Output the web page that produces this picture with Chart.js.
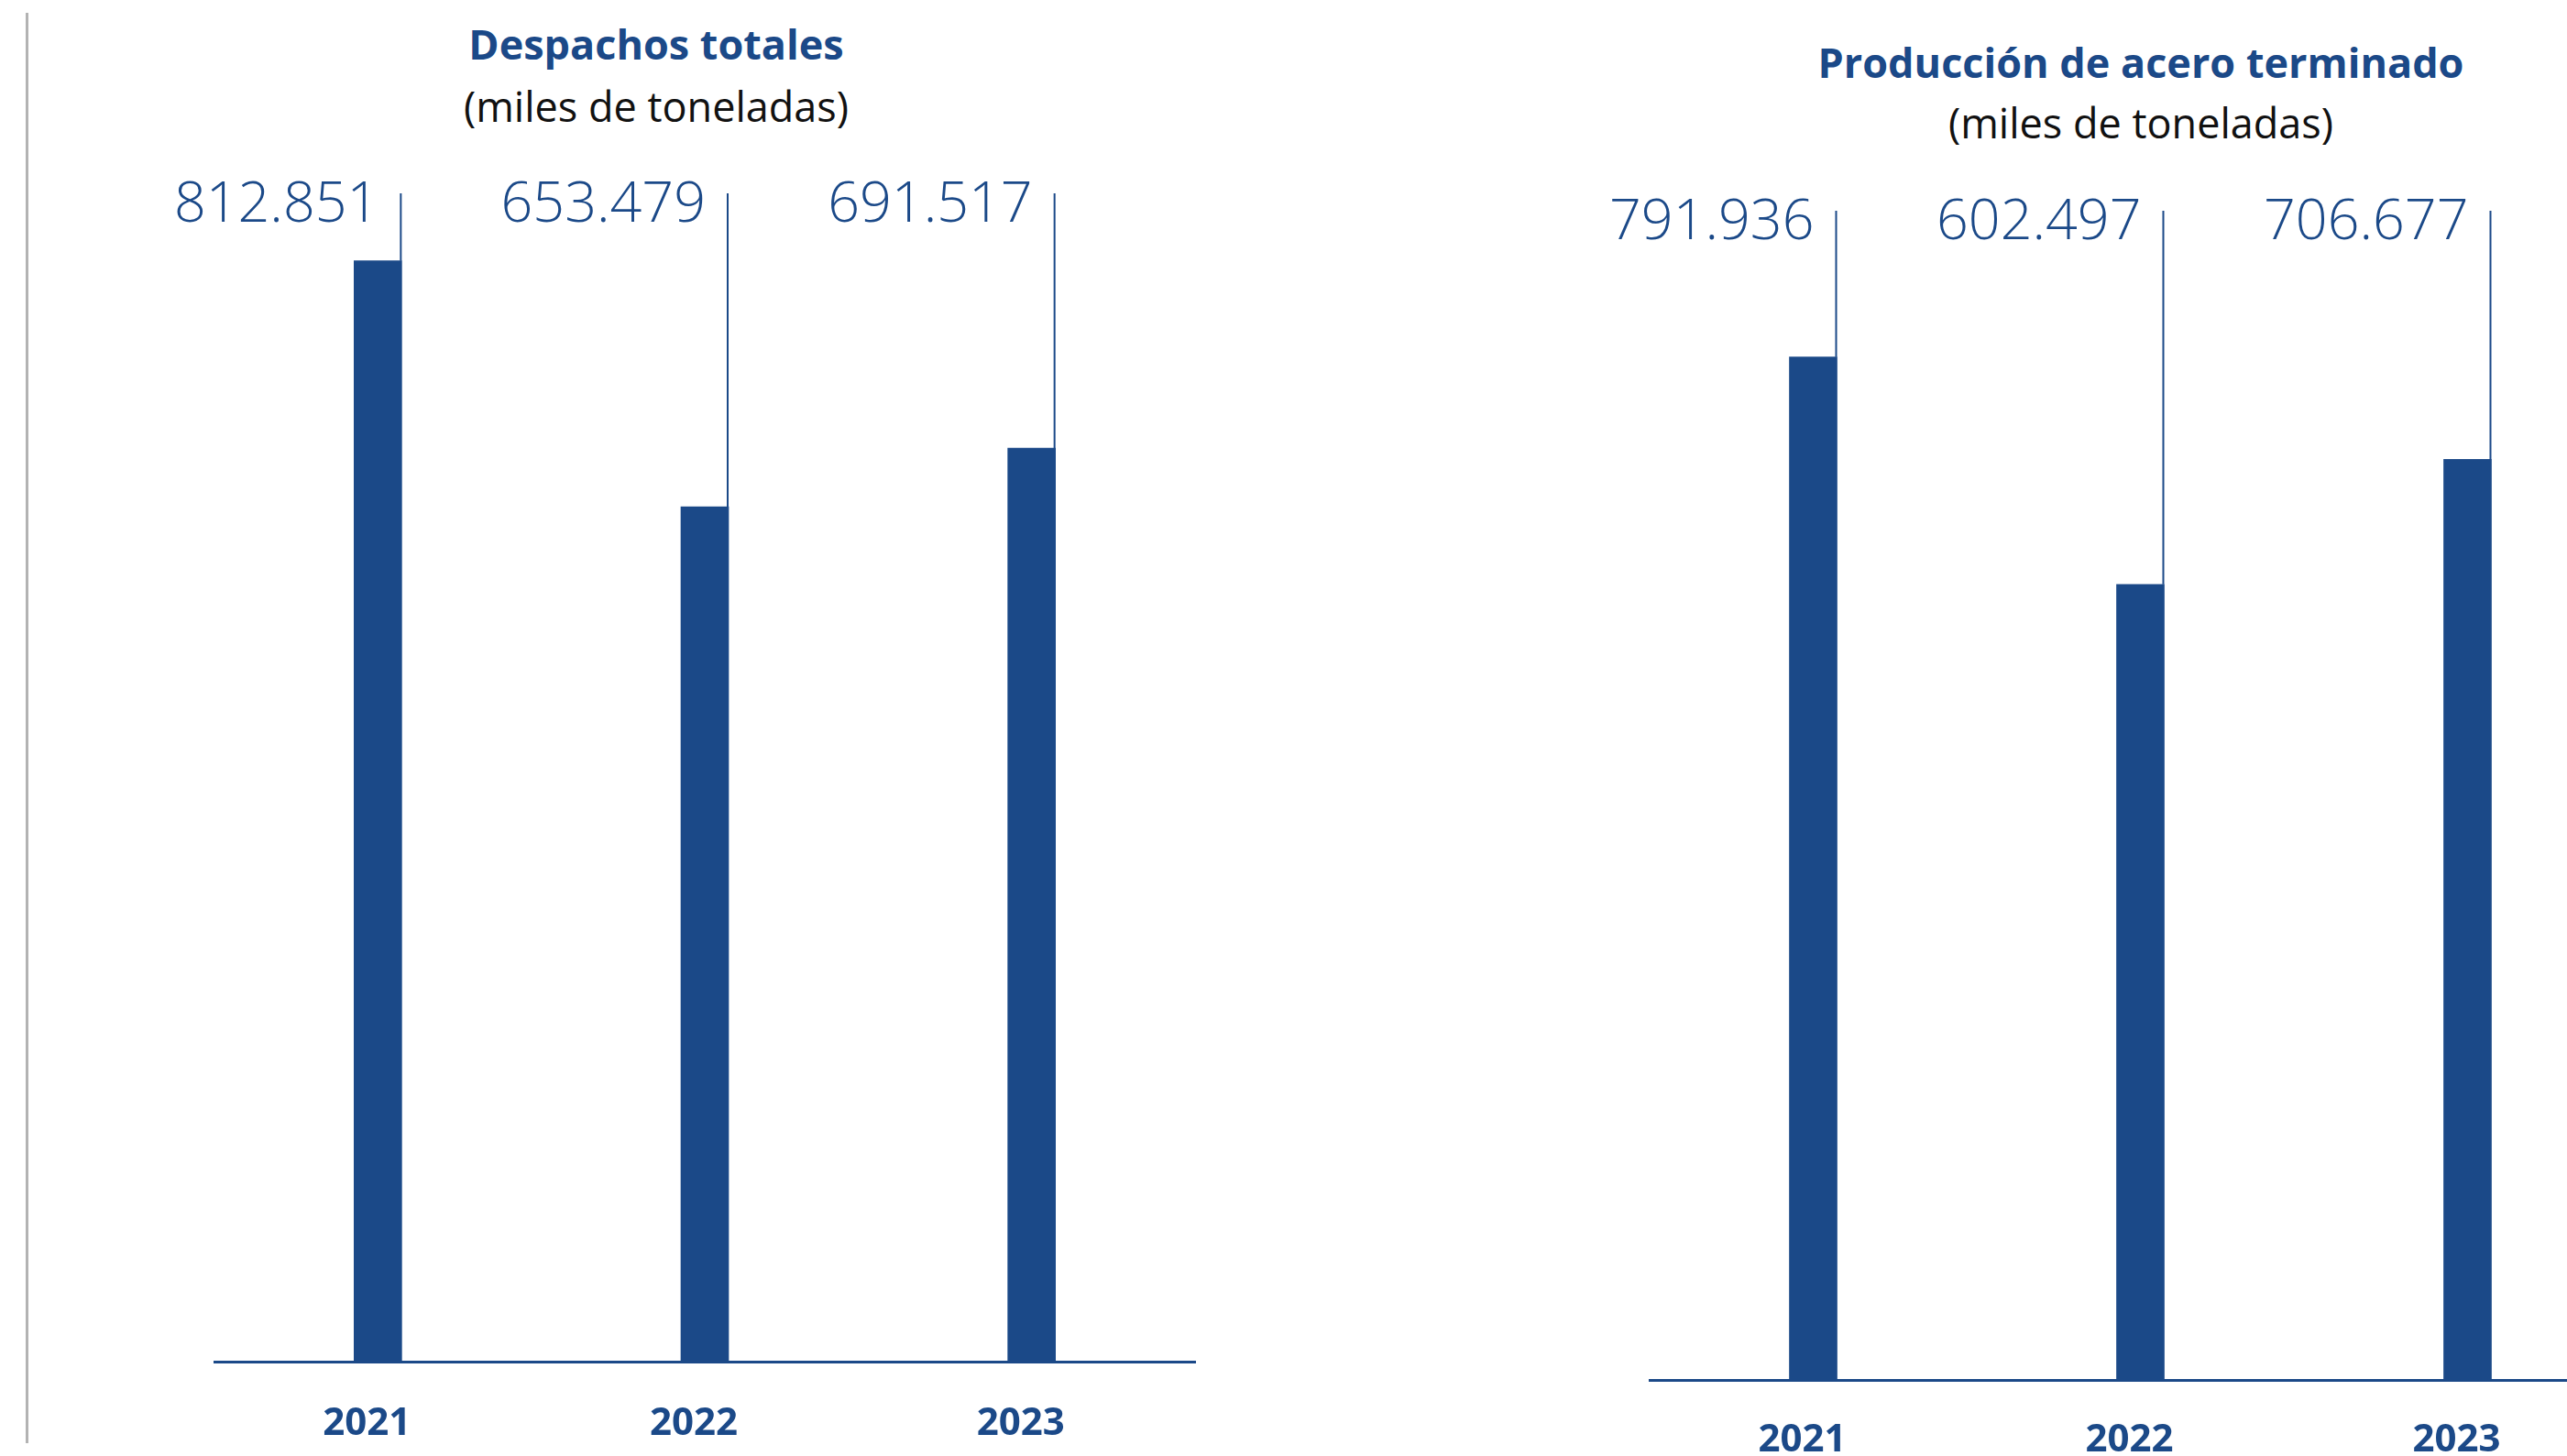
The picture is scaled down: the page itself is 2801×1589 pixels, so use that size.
<!DOCTYPE html>
<html lang="es">
<head>
<meta charset="utf-8">
<title>Despachos y producción</title>
<script src="https://cdn.jsdelivr.net/npm/chart.js@4.4.0/dist/chart.umd.min.js"></script>
<style>
  html, body { margin: 0; padding: 0; background: #fff; overflow: hidden; }
  body { width: 2801px; height: 1589px; position: relative; font-family: "Open Sans", sans-serif; }
  .rule { position: absolute; left: 28px; top: 14px; width: 3px; height: 1561px; background: #b3b3b3; }
  .title, .sub { position: absolute; white-space: nowrap; transform: translateX(-50%); line-height: 52px; }
  .title { color: #1b4988; font-weight: 700; font-size: 45px; }
  .sub { color: #111; font-size: 45px; }
  .box { position: absolute; top: 0; height: 1589px; }
</style>
</head>
<body>
<div class="rule"></div>

<div class="title" style="left:716px; top:22px;">Despachos totales</div>
<div class="sub" style="left:716px; top:90px;">(miles de toneladas)</div>
<div class="title" style="left:2336px; top:42px;">Producción de acero terminado</div>
<div class="sub" style="left:2336px; top:108px;">(miles de toneladas)</div>

<div class="box" style="left:0; width:1400px;"><canvas id="despachos"></canvas></div>
<div class="box" style="left:1700px; width:1200px;"><canvas id="produccion"></canvas></div>

<script>
// data (miles de toneladas, sin separador)
const years = ['2021', '2022', '2023'];
const despachos = [812851, 653479, 691517];
const produccion = [791936, 602497, 706677];

const blue = '#1b4988';

// 812851 -> "812.851"
const fmt = (v) => String(v).replace(/\B(?=(\d{3})+(?!\d))/g, '.');

// value label + thin connector line at the right edge of each bar
const valueTags = {
    id: 'valueTags',
    afterDatasetsDraw(chart, args, opts) {
        let ctx = chart.ctx;
        let meta = chart.getDatasetMeta(0);
        let vals = chart.data.datasets[0].data;
        ctx.save();
        meta.data.forEach((bar, i) => {
            let right = bar.x + bar.width / 2;
            ctx.strokeStyle = blue;
            ctx.lineWidth = 2;
            ctx.beginPath();
            ctx.moveTo(right - 1, opts.top);
            ctx.lineTo(right - 1, bar.y);
            ctx.stroke();
            ctx.fillStyle = blue;
            ctx.font = '300 61px "Open Sans"';
            ctx.textAlign = 'right';
            ctx.textBaseline = 'middle';
            ctx.fillText(fmt(vals[i]), right - 25, opts.top + 14);
        });
        ctx.restore();
    }
};

function makeChart(id, values, cfg) {
    return new Chart(document.getElementById(id), {
        type: 'bar',
        data: {
            labels: years,
            datasets: [{
                data: values,
                backgroundColor: blue,
                borderWidth: 0,
                barThickness: 52,
                base: cfg.min
            }]
        },
        options: {
            responsive: true,
            maintainAspectRatio: false,
            animation: false,
            layout: { padding: cfg.padding },
            plugins: {
                legend: { display: false },
                tooltip: { enabled: false },
                valueTags: { top: cfg.tagTop }
            },
            scales: {
                x: {
                    grid: { display: false, drawTicks: false },
                    border: { display: true, color: blue, width: 3 },
                    ticks: {
                        color: blue,
                        font: { family: '"Open Sans"', weight: 'bold', size: 42 },
                        padding: cfg.tickPad,
                        labelOffset: -12
                    },
                    afterFit: (s) => { s.height = cfg.axisH; }
                },
                y: {
                    display: false,
                    min: cfg.min,
                    max: cfg.max
                }
            }
        },
        plugins: [valueTags]
    });
}

makeChart('despachos', despachos, {
    padding: { left: 234, right: 96, top: 222, bottom: 3 },
    tagTop: 211, tickPad: 43, axisH: 100,
    min: 100000, max: 850000
});

makeChart('produccion', produccion, {
    padding: { left: 100, right: 29, top: 248, bottom: 3 },
    tagTop: 230, tickPad: 41, axisH: 80,
    min: -60000, max: 900000
});
</script>
</body>
</html>
